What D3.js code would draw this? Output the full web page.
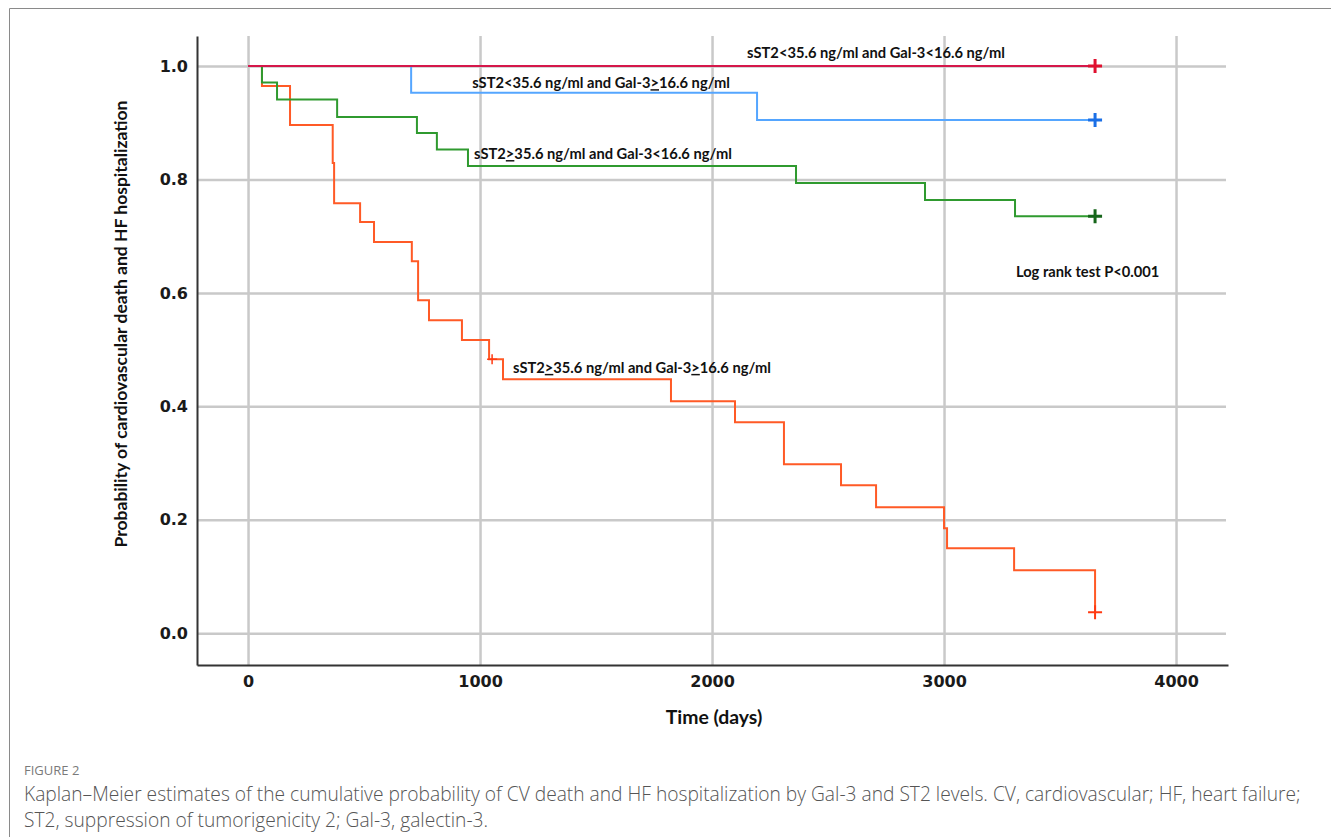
<!DOCTYPE html>
<html>
<head>
  <meta charset="UTF-8">
  <script src="https://cdn.jsdelivr.net/npm/d3@7"></script>
  <title>Kaplan-Meier Figure 2</title>
  <style>
    body { margin: 0; background: #fff; }
    svg text { font-family: "DejaVu Sans", sans-serif; }
  </style>
</head>
<body>
<svg id="chart" width="1331" height="837"></svg>
<script>
  // tick values
  var xTicks = [0, 1000, 2000, 3000, 4000];
  var yTicks = [0.0, 0.2, 0.4, 0.6, 0.8, 1.0];

  // sST2>=35.6 and Gal-3>=16.6 (orange-red)
  var hhTimes = [0, 60, 181, 365, 371, 483, 543, 706, 733, 780, 922, 1039, 1099, 1823, 2099, 2310, 2556, 2707, 3000, 3013, 3302, 3651];
  var hhSurv  = [1.0, 0.965, 0.896, 0.829, 0.758, 0.725, 0.690, 0.656, 0.587, 0.552, 0.517, 0.483, 0.448, 0.409, 0.372, 0.298, 0.261, 0.222, 0.185, 0.150, 0.111, 0.037];
  var hhCensor = [1052, 3651];

  // sST2>=35.6 and Gal-3<16.6 (green)
  var hlTimes = [0, 60, 125, 384, 728, 814, 948, 2362, 2918, 3306];
  var hlSurv  = [1.0, 0.971, 0.941, 0.910, 0.882, 0.853, 0.824, 0.794, 0.764, 0.735];
  var hlCensor = [3651];

  // sST2<35.6 and Gal-3>=16.6 (blue)
  var lhTimes = [0, 703, 2194];
  var lhSurv  = [1.0, 0.953, 0.905];
  var lhCensor = [3651];

  // sST2<35.6 and Gal-3<16.6 (crimson)
  var llTimes = [0];
  var llSurv  = [1.0];
  var llCensor = [3651];

  var endTime = 3651;

  var svg = d3.select("#chart");

  // figure frame
  svg.append("path")
      .attr("d", "M9.5,850 L9.5,8.5 L1340,8.5")
      .attr("fill", "none")
      .attr("stroke", "#8a8a8a")
      .attr("stroke-width", 1);

  var x = d3.scaleLinear().domain([-220, 4224]).range([197, 1228]);
  var y = d3.scaleLinear().domain([-0.056, 1.053]).range([665, 36]);

  // grid
  svg.append("g")
      .attr("transform", "translate(0,665)")
      .call(d3.axisBottom(x).tickValues(xTicks).tickSize(-629).tickFormat(""))
      .call(function(g) {
        g.select(".domain").remove();
        g.selectAll("line").attr("stroke", "#c9c9c9").attr("stroke-width", 2.5);
      });
  svg.append("g")
      .attr("transform", "translate(197,0)")
      .call(d3.axisLeft(y).tickValues(yTicks).tickSize(-1029).tickFormat(""))
      .call(function(g) {
        g.select(".domain").remove();
        g.selectAll("line").attr("stroke", "#c9c9c9").attr("stroke-width", 2.5);
      });

  // axes
  var xAxis = svg.append("g")
      .attr("transform", "translate(0,665)")
      .call(d3.axisBottom(x).tickValues(xTicks).tickSize(0).tickPadding(11).tickSizeOuter(0)
        .tickFormat(d3.format("d")));
  var yAxis = svg.append("g")
      .attr("transform", "translate(197,0)")
      .call(d3.axisLeft(y).tickValues(yTicks).tickSize(0).tickPadding(9).tickSizeOuter(0)
        .tickFormat(d3.format(".1f")));
  [xAxis, yAxis].forEach(function(g) {
    g.select(".domain").attr("stroke", "#333").attr("stroke-width", 2);
    g.selectAll("text")
        .attr("font-family", "DejaVu Sans")
        .attr("font-weight", "bold")
        .attr("font-size", 16)
        .attr("fill", "#1a1a1a");
  });

  svg.append("text")
      .attr("x", 714).attr("y", 724)
      .attr("text-anchor", "middle")
      .style("font-family", "Lato")
      .attr("font-weight", "bold")
      .attr("font-size", 19.4)
      .attr("fill", "#111")
      .text("Time (days)");

  svg.append("text")
      .attr("transform", "translate(127,324) rotate(-90)")
      .attr("text-anchor", "middle")
      .style("font-family", "Lato")
      .attr("font-weight", "bold")
      .attr("font-size", 17.5)
      .attr("fill", "#111")
      .text("Probability of cardiovascular death and HF hospitalization");

  // curves
  var groups = [
    { times: hhTimes, surv: hhSurv, censor: hhCensor, line: "#ff5a26", mark: "#ff3a12" },
    { times: hlTimes, surv: hlSurv, censor: hlCensor, line: "#2f9a2f", mark: "#16661a" },
    { times: lhTimes, surv: lhSurv, censor: lhCensor, line: "#55a6ff", mark: "#1a6fe6" },
    { times: llTimes, surv: llSurv, censor: llCensor, line: "#d5174a", mark: "#e0102f" }
  ];

  var step = d3.line()
      .x(function(d) { return x(d[0]); })
      .y(function(d) { return y(d[1]); })
      .curve(d3.curveStepAfter);

  function survAt(g, t) {
    var s = g.surv[0];
    for (var i = 0; i < g.times.length; i++) if (g.times[i] <= t) s = g.surv[i];
    return s;
  }

  groups.forEach(function(g) {
    var pts = g.times.map(function(t, i) { return [t, g.surv[i]]; });
    if (g.times[g.times.length - 1] < endTime) pts.push([endTime, g.surv[g.surv.length - 1]]);
    svg.append("path")
        .attr("d", step(pts))
        .attr("fill", "none")
        .attr("stroke", g.line)
        .attr("stroke-width", 2);
  });

  groups.forEach(function(g, gi) {
    g.censor.forEach(function(t) {
      var big = t === endTime;
      var h = big ? 7 : 5;
      var cx = x(t), cy = y(survAt(g, t));
      svg.append("path")
          .attr("d", ["M", cx - h, cy, "L", cx + h, cy, "M", cx, cy - h, "L", cx, cy + h].join(" "))
          .attr("stroke", g.mark)
          .attr("stroke-width", big ? (gi === 0 ? 2 : 3) : 1.5)
          .attr("fill", "none");
    });
  });

  // curve labels: [text, underlined, text, ...]
  var labelParts = [
    ["sST2<35.6 ng/ml and Gal-3<16.6 ng/ml"],
    ["sST2<35.6 ng/ml and Gal-3", ">", "16.6 ng/ml"],
    ["sST2", ">", "35.6 ng/ml and Gal-3<16.6 ng/ml"],
    ["sST2", ">", "35.6 ng/ml and Gal-3", ">", "16.6 ng/ml"],
    ["Log rank test P<0.001"]
  ];
  var labelDay  = [2151, 966, 974, 1142, 3310];
  var labelProb = [1.014, 0.961, 0.836, 0.459, 0.628];

  labelParts.forEach(function(parts, i) {
    var t = svg.append("text")
        .attr("x", x(labelDay[i]))
        .attr("y", y(labelProb[i]))
        .style("font-family", "Lato")
        .attr("font-weight", "bold")
        .attr("font-size", 14.7)
        .attr("fill", "#111");
    parts.forEach(function(p, j) {
      t.append("tspan")
          .style("text-decoration", j % 2 === 1 ? "underline" : "none")
          .text(p);
    });
  });

  // caption
  svg.append("text")
      .attr("x", 24).attr("y", 775)
      .style("font-family", "Open Sans")
      .attr("font-size", 13)
      .attr("fill", "#7a7a7a")
      .text("FIGURE 2");
  var captionLines = [
    "Kaplan\u2013Meier estimates of the cumulative probability of CV death and HF hospitalization by Gal-3 and ST2 levels. CV, cardiovascular; HF, heart failure;",
    "ST2, suppression of tumorigenicity 2; Gal-3, galectin-3."
  ];
  captionLines.forEach(function(line, i) {
    svg.append("text")
        .attr("x", 24).attr("y", 801 + i * 26)
        .style("font-family", "Open Sans")
        .attr("font-weight", 300)
        .attr("font-size", 19.2)
        .attr("fill", "#555")
        .text(line);
  });
</script>
</body>
</html>
